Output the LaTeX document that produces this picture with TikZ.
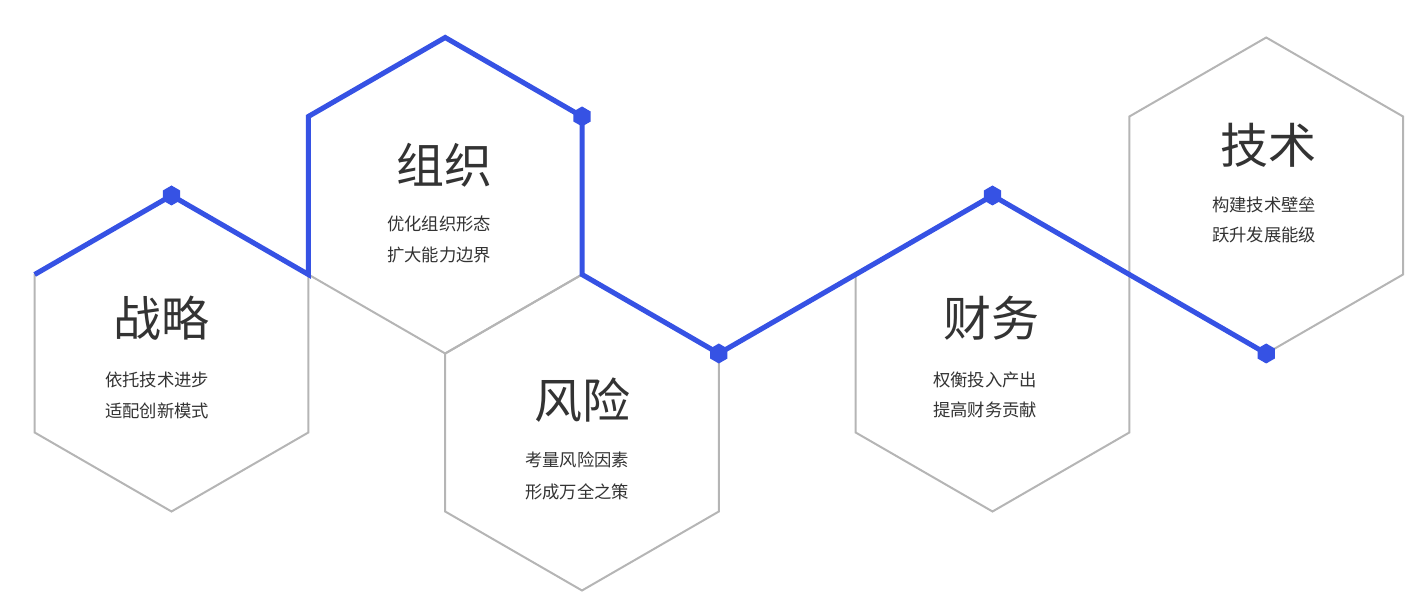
\documentclass[tikz,border=0pt]{standalone}
\usepackage{fontspec}
\newfontfamily\cjk{Noto Sans CJK SC}
\definecolor{hexblue}{HTML}{3652E4}
\definecolor{hexgray}{HTML}{B5B5B5}
\definecolor{txt}{HTML}{333333}
\begin{document}
\begin{tikzpicture}[x=0.75pt,y=-0.75pt,
  hexline/.style={draw=hexgray,line width=1.5pt,line join=miter},
  blueline/.style={draw=hexblue,line width=3.8pt,line join=miter},
  title/.style={font=\cjk\fontsize{36}{40}\selectfont,text=txt,inner sep=0pt,anchor=center,text height=0.88em,text depth=0.12em},
  sub/.style={font=\cjk\fontsize{13}{15}\selectfont,text=txt,inner sep=0pt,anchor=center,text height=0.88em,text depth=0.12em},
  dot/.style={fill=hexblue}]
\useasboundingbox (0,0) rectangle (1414,609);
\def\R{158}
\def\W{136.83}
% hexagon centers
\coordinate (c1) at (171.5,353.5);
\coordinate (c2) at (445.2,195.5);
\coordinate (c3) at (582,432.5);
\coordinate (c4) at (992.5,353.5);
\coordinate (c5) at (1266.2,195.5);
% gray hexagons
\foreach \c in {c1,c2,c3,c4,c5}{
  \draw[hexline] ([shift={(0,-\R)}]\c) -- ([shift={(\W,-79)}]\c) -- ([shift={(\W,79)}]\c)
    -- ([shift={(0,\R)}]\c) -- ([shift={(-\W,79)}]\c) -- ([shift={(-\W,-79)}]\c) -- cycle;
}
% vertices of the blue path
\coordinate (b0) at ([shift={(-\W,-79)}]c1);
\coordinate (b1) at ([shift={(0,-\R)}]c1);
\coordinate (b2) at ([shift={(\W,-79)}]c1);
\coordinate (b3) at ([shift={(-\W,-79)}]c2);
\coordinate (b4) at ([shift={(0,-\R)}]c2);
\coordinate (b5) at ([shift={(\W,-79)}]c2);
\coordinate (b6) at ([shift={(\W,79)}]c2);
\coordinate (b7) at ([shift={(\W,-79)}]c3);
\coordinate (b8) at ([shift={(-\W,-79)}]c4);
\coordinate (b9) at ([shift={(0,-\R)}]c4);
\coordinate (b10) at ([shift={(\W,-79)}]c4);
\coordinate (b11) at ([shift={(0,\R)}]c5);
\draw[blueline] (b0) -- (b1) -- (b2) -- (b3) -- (b4) -- (b5) -- (b6) -- (b7) -- (b8) -- (b9) -- (b10) -- (b11);
% dots
\foreach \d in {b1,b5,b7,b9,b11}{
  \fill[dot] ([shift={(0,-10)}]\d) -- ([shift={(8.66,-5)}]\d) -- ([shift={(8.66,5)}]\d)
    -- ([shift={(0,10)}]\d) -- ([shift={(-8.66,5)}]\d) -- ([shift={(-8.66,-5)}]\d) -- cycle;
}
% texts
\node[title] (t1) at (161,331) {战略};
\node[sub] (s1a) at (157,381) {依托技术进步};
\node[sub] (s1b) at (157,412) {适配创新模式};
\node[title] (t2) at (444,178) {组织};
\node[sub] (s2a) at (439,225) {优化组织形态};
\node[sub] (s2b) at (439,256) {扩大能力边界};
\node[title] (t3) at (582,413) {风险};
\node[sub] (s3a) at (577,461) {考量风险因素};
\node[sub] (s3b) at (577,493) {形成万全之策};
\node[title] (t4) at (991,331) {财务};
\node[sub] (s4a) at (985,381) {权衡投入产出};
\node[sub] (s4b) at (985,411) {提高财务贡献};
\node[title] (t5) at (1268,158) {技术};
\node[sub] (s5a) at (1264,206) {构建技术壁垒};
\node[sub] (s5b) at (1264,236) {跃升发展能级};
\end{tikzpicture}
\end{document}
